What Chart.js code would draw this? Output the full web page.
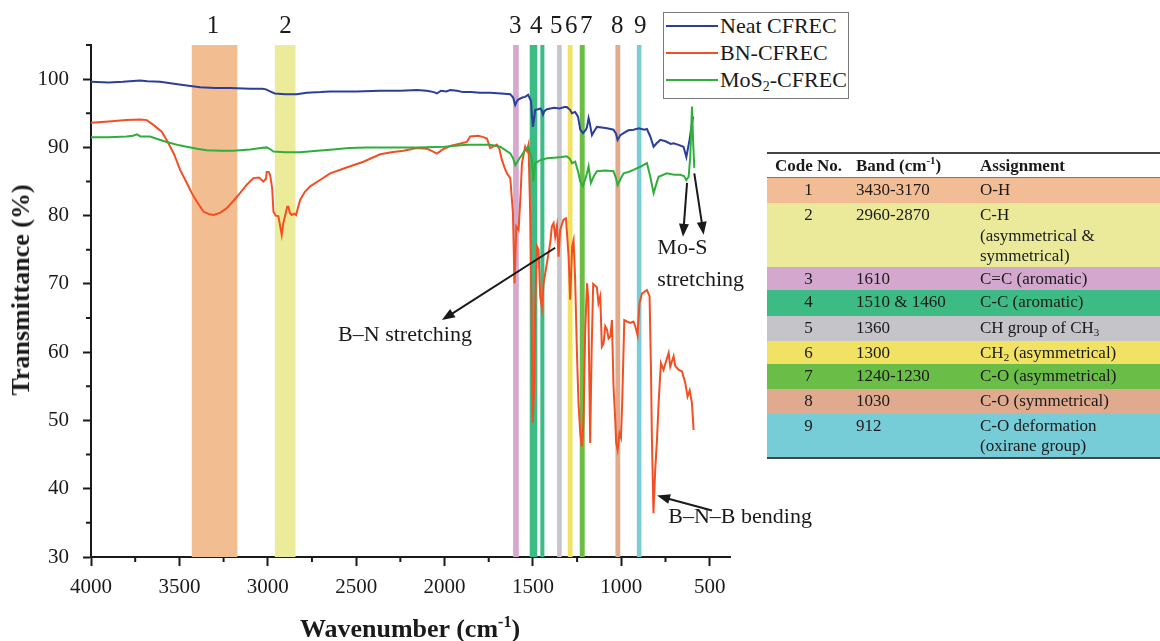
<!DOCTYPE html>
<html lang="en">

<head>
    <meta charset="UTF-8">
    <script src="https://cdn.jsdelivr.net/npm/chart.js"></script>
    <title>FTIR spectra</title>
    <style>
        body { margin: 0; background: #fff; overflow: hidden; }
        #wrap { position: relative; width: 1160px; height: 641px; font-family: 'Liberation Serif', 'Times New Roman', serif; color: #1a1a1a; }
        #grafico { position: absolute; left: 0; top: 0; }
        .ytitle { position: absolute; left: 21px; top: 290px; transform: translate(-50%, -50%) rotate(-90deg); white-space: nowrap; font-weight: bold; font-size: 26px; }
        .xtitle { position: absolute; left: 410px; top: 616px; transform: translateX(-50%); white-space: nowrap; font-weight: bold; font-size: 26px; line-height: 26px; }
        .xtitle sup { font-size: 16px; line-height: 0; vertical-align: 10px; }
        .legenda { position: absolute; left: 663px; top: 12px; width: 184px; height: 85px; border: 1.5px solid #7a7a7a; background: #fff; }
        .item { position: absolute; left: 0; height: 26px; font-size: 22px; line-height: 26px; white-space: nowrap; }
        .item i { position: absolute; left: 2px; top: 12px; width: 52px; height: 2px; }
        .item span { position: absolute; left: 56px; top: 0; }
        .item sub { font-size: 14px; line-height: 0; vertical-align: -4px; }
        .tabela { position: absolute; left: 767px; top: 152px; width: 420px; border-collapse: collapse; font-size: 17px; table-layout: fixed; }
        .tabela th, .tabela td { padding: 2px 0 0 6px; line-height: 20.5px; vertical-align: top; text-align: left; white-space: nowrap; }
        .tabela th { font-weight: bold; padding-top: 1px; vertical-align: middle; }
        .tabela thead tr { border-top: 2px solid #444; border-bottom: 1.5px solid #777; }
        .tabela tbody tr:last-child { border-bottom: 2px solid #444; }
        .tabela .c1 { text-align: center; padding-left: 0; }
        .tabela sub { font-size: 11px; line-height: 0; vertical-align: -3px; }
        .tabela sup { font-size: 11px; line-height: 0; vertical-align: 7px; }
    </style>
</head>

<body>
    <div id="wrap">
        <canvas id="grafico" width="1160" height="641"></canvas>

        <div class="ytitle">Transmittance (%)</div>
        <div class="xtitle">Wavenumber (cm<sup>-1</sup>)</div>

        <div class="legenda">
            <div class="item" style="top:0px"><i style="background:#2b3e9c"></i><span>Neat CFREC</span></div>
            <div class="item" style="top:27px"><i style="background:#f24f22"></i><span>BN-CFREC</span></div>
            <div class="item" style="top:54px"><i style="background:#2fae3c"></i><span>MoS<sub>2</sub>-CFREC</span></div>
        </div>

        <table class="tabela">
            <colgroup><col style="width:83px"><col style="width:124px"><col></colgroup>
            <thead>
                <tr style="height:24px"><th class="c1">Code No.</th><th>Band (cm<sup>-1</sup>)</th><th>Assignment</th></tr>
            </thead>
            <tbody>
                <tr style="height:26px;background:#f2bd94"><td class="c1">1</td><td>3430-3170</td><td>O-H</td></tr>
                <tr style="height:62px;background:#ebea9b"><td class="c1">2</td><td>2960-2870</td><td>C-H<br>(asymmetrical &amp;<br>symmetrical)</td></tr>
                <tr style="height:23px;background:#d4a7cf"><td class="c1">3</td><td>1610</td><td>C=C (aromatic)</td></tr>
                <tr style="height:26px;background:#3dbb84"><td class="c1">4</td><td>1510 &amp; 1460</td><td>C-C (aromatic)</td></tr>
                <tr style="height:25px;background:#c4c4c9"><td class="c1">5</td><td>1360</td><td>CH group of CH<sub>3</sub></td></tr>
                <tr style="height:23px;background:#f1e264"><td class="c1">6</td><td>1300</td><td>CH<sub>2</sub> (asymmetrical)</td></tr>
                <tr style="height:25px;background:#6abd46"><td class="c1">7</td><td>1240-1230</td><td>C-O (asymmetrical)</td></tr>
                <tr style="height:25px;background:#e0aa8e"><td class="c1">8</td><td>1030</td><td>C-O (symmetrical)</td></tr>
                <tr style="height:42px;background:#76ccd7"><td class="c1">9</td><td>912</td><td>C-O deformation<br>(oxirane group)</td></tr>
            </tbody>
        </table>
    </div>
</body>

</html>
<script>
    // spectra (wavenumber in cm-1, transmittance in %)
    const wnNeat = [4000, 3900, 3820, 3723, 3680, 3609, 3500, 3383, 3300, 3213, 3100, 3030, 3010, 2987, 2960, 2900, 2836, 2780, 2700, 2647, 2500, 2364, 2250, 2157, 2100, 2060, 2043, 2020, 1990, 1968, 1930, 1894, 1850, 1800, 1742, 1680, 1628, 1612, 1600, 1590, 1583, 1560, 1544, 1527, 1511, 1505, 1500, 1493, 1487, 1470, 1459, 1450, 1443, 1435, 1421, 1380, 1350, 1320, 1308, 1290, 1279, 1261, 1245, 1232, 1217, 1200, 1194, 1185, 1178, 1166, 1150, 1138, 1110, 1080, 1044, 1030, 1021, 1005, 987, 960, 931, 900, 870, 855, 836, 817, 800, 779, 750, 720, 704, 680, 660, 648, 632, 614, 600, 594];
    const tNeat = [99.6, 99.5, 99.6, 99.8, 99.7, 99.6, 99.2, 98.8, 98.7, 98.7, 98.6, 98.6, 98.5, 98.2, 97.9, 97.8, 97.8, 98.0, 98.1, 98.2, 98.2, 98.3, 98.3, 98.4, 98.3, 98.1, 97.9, 98.3, 98.2, 98.4, 98.3, 98.1, 98.1, 98.0, 98.0, 97.9, 97.8, 97.3, 96.2, 96.8, 97.0, 97.3, 97.4, 97.7, 96.8, 94.5, 93.0, 94.2, 95.5, 95.6, 95.7, 95.4, 94.8, 95.3, 95.6, 95.8, 95.7, 95.9, 95.9, 95.5, 95.0, 95.2, 94.5, 92.6, 92.1, 92.6, 93.0, 94.3, 93.5, 91.8, 92.5, 93.0, 92.9, 92.8, 92.6, 92.0, 91.1, 91.8, 92.1, 92.5, 92.6, 92.8, 92.6, 92.7, 91.6, 90.1, 90.6, 91.1, 90.9, 90.5, 90.6, 90.4, 90.2, 90.1, 88.6, 91.1, 93.5, 94.5];

    const wnBN = [4000, 3900, 3800, 3720, 3685, 3647, 3600, 3572, 3530, 3496, 3460, 3430, 3400, 3364, 3330, 3308, 3270, 3232, 3190, 3157, 3120, 3081, 3050, 3025, 3010, 3006, 2995, 2987, 2975, 2968, 2955, 2940, 2930, 2921, 2912, 2902, 2890, 2883, 2875, 2864, 2850, 2840, 2817, 2790, 2760, 2700, 2647, 2550, 2459, 2364, 2300, 2232, 2157, 2100, 2081, 2043, 2010, 1968, 1920, 1874, 1855, 1808, 1780, 1760, 1742, 1720, 1704, 1690, 1676, 1660, 1647, 1628, 1613, 1604, 1594, 1581, 1570, 1562, 1544, 1534, 1525, 1515, 1508, 1501, 1493, 1487, 1477, 1468, 1459, 1449, 1440, 1421, 1402, 1393, 1383, 1374, 1364, 1355, 1346, 1327, 1313, 1298, 1289, 1278, 1270, 1261, 1251, 1242, 1232, 1223, 1214, 1204, 1194, 1187, 1176, 1168, 1159, 1138, 1129, 1119, 1110, 1100, 1091, 1081, 1072, 1062, 1053, 1044, 1034, 1029, 1021, 1010, 1002, 995, 983, 968, 949, 931, 921, 908, 897, 883, 855, 840, 832, 827, 818, 808, 798, 789, 776, 761, 751, 732, 723, 704, 695, 675, 657, 638, 625, 613, 600, 591];
    const tBN = [93.6, 93.8, 94.0, 94.1, 94.0, 93.3, 92.3, 91.1, 89.0, 86.7, 84.9, 83.3, 82.0, 80.6, 80.2, 80.1, 80.4, 81.1, 82.3, 83.3, 84.5, 85.5, 85.6, 85.0, 85.4, 86.4, 86.4, 86.0, 84.0, 80.6, 80.0, 79.9, 78.5, 77.2, 78.9, 80.0, 81.3, 81.3, 80.4, 80.1, 80.3, 80.1, 82.3, 83.5, 84.3, 85.3, 86.2, 87.1, 87.9, 89.0, 89.3, 89.5, 89.9, 89.8, 89.6, 89.1, 89.7, 90.2, 90.5, 90.8, 91.6, 91.7, 91.5, 91.3, 89.9, 90.2, 90.4, 89.8, 88.2, 87.0, 86.2, 85.5, 80.4, 70.1, 78.4, 77.9, 83.0, 87.7, 90.1, 89.5, 90.4, 80.0, 68.2, 49.7, 55.0, 67.2, 75.5, 75.0, 68.2, 66.5, 70.0, 73.0, 76.0, 78.4, 78.9, 76.9, 78.5, 74.0, 77.9, 79.4, 79.6, 74.0, 67.7, 75.5, 76.4, 70.6, 60.0, 52.5, 48.1, 46.2, 49.6, 63.3, 70.1, 68.0, 46.7, 60.0, 70.0, 69.5, 67.2, 68.2, 60.8, 61.3, 63.8, 63.3, 62.0, 62.3, 64.7, 55.0, 50.0, 46.7, 45.7, 48.1, 47.5, 52.5, 64.7, 64.5, 64.3, 64.5, 63.8, 62.5, 67.2, 68.6, 69.1, 68.2, 57.4, 47.6, 36.4, 42.8, 47.2, 52.5, 58.4, 57.4, 58.3, 59.9, 57.9, 59.4, 58.0, 57.4, 57.2, 55.5, 53.5, 54.4, 52.5, 48.6];

    const wnMoS2 = [4000, 3900, 3800, 3762, 3741, 3720, 3666, 3620, 3572, 3500, 3458, 3400, 3345, 3260, 3196, 3100, 3040, 3006, 2990, 2968, 2900, 2817, 2720, 2630, 2540, 2440, 2300, 2157, 2000, 1874, 1800, 1742, 1685, 1628, 1612, 1600, 1581, 1560, 1544, 1525, 1506, 1497, 1487, 1460, 1421, 1380, 1340, 1308, 1290, 1279, 1261, 1245, 1232, 1217, 1194, 1185, 1172, 1155, 1138, 1090, 1044, 1030, 1021, 1000, 987, 960, 931, 890, 855, 836, 817, 800, 789, 742, 700, 667, 645, 632, 619, 610, 600, 594, 587];
    const tMoS2 = [91.5, 91.5, 91.6, 91.7, 91.9, 91.6, 91.6, 91.2, 90.8, 90.3, 90.1, 89.8, 89.6, 89.5, 89.5, 89.7, 89.9, 90.0, 89.8, 89.4, 89.3, 89.3, 89.5, 89.7, 89.9, 90.0, 90.0, 90.0, 90.1, 90.4, 90.4, 90.4, 90.1, 89.1, 88.4, 87.4, 88.2, 89.0, 89.6, 90.1, 88.2, 85.0, 87.7, 88.1, 88.4, 88.5, 88.6, 88.7, 88.3, 87.7, 87.9, 86.5, 85.0, 84.3, 86.2, 87.2, 84.8, 85.8, 86.5, 86.6, 86.5, 85.5, 84.5, 85.6, 86.2, 86.4, 86.7, 87.2, 87.7, 85.7, 83.3, 84.8, 85.7, 86.2, 86.0, 86.0, 85.8, 85.2, 85.7, 88.6, 96.0, 91.0, 87.0];

    // assignment bands (band 4 is two strips)
    const stripFrom = [3430, 2960, 1612, 1518, 1458, 1363, 1303, 1235, 1033, 912];
    const stripTo = [3172, 2843, 1580, 1475, 1435, 1337, 1276, 1207, 1006, 886];
    const stripColors = ['#f3bd92', '#ebeb9a', '#d5a8d0', '#3dbb85', '#3dbb85', '#c5c5ca', '#f1e25f', '#6cbd45', '#e2aa8c', '#78cdd8'];
    const bandCodes = ['1', '2', '3', '4', '5', '6', '7', '8', '9'];
    const bandLabelWn = [3310, 2900, 1600, 1481, 1368, 1283, 1198, 1023, 893];

    const xTicks = [4000, 3500, 3000, 2500, 2000, 1500, 1000, 500];
    const xMinor = [3750, 3250, 2750, 2250, 1750, 1250, 750];
    const yTicks = [30, 40, 50, 60, 70, 80, 90, 100];
    const yMinor = [35, 45, 55, 65, 75, 85, 95, 105];

    // arrows and notes, in data units
    const arrowFromWn = [1374, 628, 587, 487];
    const arrowFromT = [75.3, 84.8, 86.2, 36.8];
    const arrowToWn = [2015, 651, 534, 798];
    const arrowToT = [64.7, 76.9, 77.2, 39.0];
    const noteText = ['B\u2013N stretching', 'Mo-S', 'stretching', 'B\u2013N\u2013B bending'];
    const noteWn = [2602, 796, 796, 734];
    const noteT = [62.5, 75.2, 70.6, 35.9];

    const fonte = "'Liberation Serif', 'Times New Roman', serif";
    const preto = '#1a1a1a';

    function pontos(xs, ys) {
        let p = [];
        for (let i = 0; i < xs.length; i++) p.push({ x: xs[i], y: ys[i] });
        return p;
    }

    const faixas = {
        id: 'faixas',
        beforeDatasetsDraw(chart) {
            const { ctx, chartArea: a, scales: { x } } = chart;
            ctx.save();
            for (let i = 0; i < stripFrom.length; i++) {
                const x1 = x.getPixelForValue(stripFrom[i]);
                const x2 = x.getPixelForValue(stripTo[i]);
                ctx.fillStyle = stripColors[i];
                ctx.fillRect(Math.min(x1, x2), a.top, Math.abs(x2 - x1), a.bottom - a.top);
            }
            ctx.fillStyle = preto;
            ctx.font = '25px ' + fonte;
            ctx.textAlign = 'center';
            ctx.textBaseline = 'middle';
            for (let i = 0; i < bandCodes.length; i++) {
                ctx.fillText(bandCodes[i], x.getPixelForValue(bandLabelWn[i]), a.top - 19);
            }
            ctx.restore();
        },
        afterDatasetsDraw(chart) {
            const { ctx, scales: { x, y } } = chart;
            ctx.save();
            ctx.strokeStyle = preto;
            ctx.fillStyle = preto;
            ctx.lineWidth = 2;
            for (let i = 0; i < arrowFromWn.length; i++) {
                const x1 = x.getPixelForValue(arrowFromWn[i]), y1 = y.getPixelForValue(arrowFromT[i]);
                const x2 = x.getPixelForValue(arrowToWn[i]), y2 = y.getPixelForValue(arrowToT[i]);
                const ang = Math.atan2(y2 - y1, x2 - x1);
                ctx.beginPath();
                ctx.moveTo(x1, y1);
                ctx.lineTo(x2 - 8 * Math.cos(ang), y2 - 8 * Math.sin(ang));
                ctx.stroke();
                ctx.beginPath();
                ctx.moveTo(x2, y2);
                ctx.lineTo(x2 - 13 * Math.cos(ang) + 5 * Math.sin(ang), y2 - 13 * Math.sin(ang) - 5 * Math.cos(ang));
                ctx.lineTo(x2 - 13 * Math.cos(ang) - 5 * Math.sin(ang), y2 - 13 * Math.sin(ang) + 5 * Math.cos(ang));
                ctx.closePath();
                ctx.fill();
            }
            ctx.font = '22px ' + fonte;
            ctx.textAlign = 'left';
            ctx.textBaseline = 'middle';
            for (let i = 0; i < noteText.length; i++) {
                ctx.fillText(noteText[i], x.getPixelForValue(noteWn[i]), y.getPixelForValue(noteT[i]));
            }
            ctx.restore();
        },
        afterDraw(chart) {
            // minor ticks
            const { ctx, chartArea: a, scales: { x, y } } = chart;
            ctx.save();
            ctx.strokeStyle = preto;
            ctx.lineWidth = 2;
            ctx.beginPath();
            for (const v of xMinor) {
                const px = x.getPixelForValue(v);
                ctx.moveTo(px, a.bottom);
                ctx.lineTo(px, a.bottom + 5);
            }
            for (const v of yMinor) {
                const py = y.getPixelForValue(v);
                ctx.moveTo(a.left, py);
                ctx.lineTo(a.left - 5, py);
            }
            ctx.stroke();
            ctx.restore();
        }
    };

    const config = {
        type: 'line',
        data: {
            datasets: [
                { label: 'MoS2-CFREC', data: pontos(wnMoS2, tMoS2), borderColor: '#2fae3c', order: 0 },
                { label: 'BN-CFREC', data: pontos(wnBN, tBN), borderColor: '#f24f22', order: 1 },
                { label: 'Neat CFREC', data: pontos(wnNeat, tNeat), borderColor: '#2b3e9c', order: 2 }
            ]
        },
        options: {
            responsive: false,
            animation: false,
            layout: { padding: { top: 45, right: 430, left: 0, bottom: 0 } },
            elements: { point: { radius: 0 }, line: { borderWidth: 2, tension: 0 } },
            plugins: { legend: { display: false }, tooltip: { enabled: false } },
            scales: {
                x: {
                    type: 'linear', reverse: true, min: 385, max: 4000,
                    afterBuildTicks: function (s) { s.ticks = xTicks.map(v => ({ value: v })); },
                    afterFit: function (s) { s.height = 84; },
                    border: { color: preto, width: 2 },
                    grid: { drawOnChartArea: false, tickLength: 9, tickWidth: 2, tickColor: preto },
                    ticks: { font: { family: fonte, size: 21 }, color: preto, padding: 9, maxRotation: 0, autoSkip: false, callback: v => String(v) }
                },
                y: {
                    min: 30, max: 105,
                    afterBuildTicks: function (s) { s.ticks = yTicks.map(v => ({ value: v })); },
                    afterFit: function (s) { s.width = 91; },
                    border: { color: preto, width: 2 },
                    grid: { drawOnChartArea: false, tickLength: 8, tickWidth: 2, tickColor: preto },
                    ticks: { font: { family: fonte, size: 21 }, color: preto, padding: 14, callback: v => String(v) }
                }
            }
        },
        plugins: [faixas]
    };

    new Chart(document.getElementById('grafico'), config);
</script>
